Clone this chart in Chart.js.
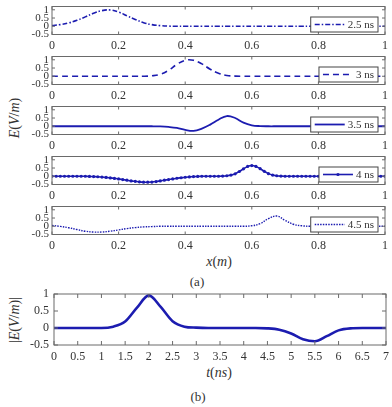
<!DOCTYPE html>
<html>
<head>
<meta charset="utf-8">
<script src="https://cdn.jsdelivr.net/npm/chart.js@4.4.1/dist/chart.umd.min.js"></script>
<style>
body { margin: 0; background: #fff; width: 392px; height: 407px; position: relative; overflow: hidden;
       font-family: 'Liberation Serif', serif; color: #333; }
canvas { position: absolute; left: 0; }
.lbl { position: absolute; white-space: nowrap; transform: translate(-50%, -50%); font-size: 14px; }
.rot { transform: translate(-50%, -50%) rotate(-90deg); }
</style>
</head>
<body>
<div class="lbl rot" style="left:15px; top:118px;"><i>E</i>(<i>V</i>/<i>m</i>)</div>
<div class="lbl" style="left:219px; top:262px;"><i>x</i>(<i>m</i>)</div>
<div class="lbl" style="left:197px; top:282px; font-size:13px;">(a)</div>
<div class="lbl rot" style="left:15px; top:320px;">|<i>E</i>(<i>V</i>/<i>m</i>)|</div>
<div class="lbl" style="left:219px; top:373px;"><i>t</i>(<i>ns</i>)</div>
<div class="lbl" style="left:198px; top:397px; font-size:13px;">(b)</div>
<script>
// 위치 격자 (m)
var xA = [0,0.025,0.05,0.075,0.1,0.125,0.15,0.175,0.2,0.225,0.25,0.275,0.3,0.325,0.35,0.375,0.4,0.425,0.45,0.475,
          0.5,0.525,0.55,0.575,0.6,0.625,0.65,0.675,0.7,0.725,0.75,0.775,0.8,0.825,0.85,0.875,0.9,0.925,0.95,0.975,1];
var xB = [0,0.0125,0.025,0.0375,0.05,0.0625,0.075,0.0875,0.1,0.1125,0.125,0.1375,0.15,0.1625,0.175,0.1875,0.2,0.2125,
          0.225,0.2375,0.25,0.2625,0.275,0.2875,0.3,0.3125,0.325,0.3375,0.35,0.3625,0.375,0.3875,0.4,0.4125,0.425,0.4375,
          0.45,0.4625,0.475,0.4875,0.5,0.5125,0.525,0.5375,0.55,0.5625,0.575,0.5875,0.6,0.6125,0.625,0.6375,0.65,0.6625,
          0.675,0.6875,0.7,0.7125,0.725,0.7375,0.75,0.7625,0.775,0.7875,0.8,0.8125,0.825,0.8375,0.85,0.8625,0.875,0.8875,
          0.9,0.9125,0.925,0.9375,0.95,0.9625,0.975,0.9875,1];

// 각 시간의 전기장 E(V/m)
var e25 = [0.05,0.1,0.2,0.36,0.57,0.79,0.95,0.99,0.86,0.64,0.41,0.22,0.1,0.04,0.01,0,0,0,0,0,
           0,0,0,0,0,0,0,0,0,0,0,0,0,0,0,0,0,0,0,0,0];
var e3 = [0,0,0,0,0,0,0,0,0,0,0,0,0.03,0.12,0.36,0.72,0.97,0.97,0.75,0.43,
          0.18,0.05,0.01,0,0,0,0,0,0,0,0,0,0,0,0,0,0,0,0,0,0];
var e35 = [0,0,0,0,0,0,0,0,0,0,0,0,0,-0.01,-0.04,-0.1,-0.22,-0.28,-0.14,0.1,
           0.4,0.62,0.5,0.22,0.06,0.01,0,0,0,0,0,0,0,0,0,0,0,0,0,0,0];
var e4 = [0,0,0,0,0,0,0,0,0,-0.01,-0.02,-0.03,-0.05,-0.07,-0.1,-0.13,-0.16,-0.2,-0.24,-0.28,
          -0.31,-0.34,-0.36,-0.36,-0.35,-0.32,-0.28,-0.24,-0.2,-0.16,-0.12,-0.09,-0.06,-0.04,-0.02,-0.01,0,0,0,0,
          0,0.01,0.03,0.07,0.15,0.29,0.45,0.6,0.65,0.6,0.46,0.3,0.16,0.07,0.03,0.01,0,0,0,0,
          0,0,0,0,0,0,0,0,0,0,0,0,0,0,0,0,0,0,0,0,0];
var e45 = [0.05,-0.01,-0.09,-0.2,-0.3,-0.35,-0.35,-0.3,-0.22,-0.14,-0.08,-0.04,-0.02,0,0,0,0,0,0,0,
           0,0,0,0,0.03,0.16,0.46,0.62,0.36,0.12,0.03,0,0,0,0,0,0,0,0,0,0];

// (b) 시간 (ns) 과 |E|
var tB = [0,0.25,0.5,0.75,1,1.25,1.5,1.75,2,2.25,2.5,2.75,3,3.25,3.5,3.75,4,4.25,4.5,4.75,5,5.25,5.5,5.75,6,6.25,6.5,6.75,7];
var eT = [0,0,0,0,0,0.04,0.19,0.6,0.96,0.62,0.2,0.04,0.01,0,0,0,0,0,-0.01,-0.05,-0.16,-0.33,-0.39,-0.24,-0.07,-0.01,0,0,0];

var labelsA = ['2.5 ns', '3 ns', '3.5 ns', '4 ns', '4.5 ns'];
var xTicksA = [0, 0.2, 0.4, 0.6, 0.8, 1];
var yTicksA = [-0.5, 0, 0.5, 1];
var xTicksB = [0,0.5,1,1.5,2,2.5,3,3.5,4,4.5,5,5.5,6,6.5,7];
var yTicksB = [-0.5, 0, 0.5, 1];

var blue = '#1c1cb0';
var axisGray = '#6a6a6a';
Chart.defaults.font.family = "'Liberation Serif', serif";
Chart.defaults.color = '#333';

// 박스, 안쪽 눈금, 범례 그리기
var frame = {
  id: 'frame',
  afterDatasetsDraw: function (chart, args, o) {
    var ctx = chart.ctx, a = chart.chartArea, sx = chart.scales.x, sy = chart.scales.y;
    ctx.save();
    ctx.strokeStyle = axisGray;
    ctx.lineWidth = 1;
    ctx.setLineDash([]);
    ctx.beginPath();
    sx.ticks.forEach(function (t) {
      var px = sx.getPixelForValue(t.value);
      ctx.moveTo(px, a.bottom); ctx.lineTo(px, a.bottom - o.tick);
      ctx.moveTo(px, a.top); ctx.lineTo(px, a.top + o.tick);
    });
    sy.ticks.forEach(function (t) {
      var py = sy.getPixelForValue(t.value);
      ctx.moveTo(a.left, py); ctx.lineTo(a.left + o.tick, py);
      ctx.moveTo(a.right, py); ctx.lineTo(a.right - o.tick, py);
    });
    ctx.stroke();
    ctx.strokeRect(a.left, a.top, a.right - a.left, a.bottom - a.top);

    if (o.legend) {
      var ds = chart.data.datasets[0];
      ctx.font = '11px "Liberation Serif", serif';
      var tw = ctx.measureText(ds.label).width;
      var w = 4 + 30 + 3 + tw + 4, h = 15;
      var x0 = a.right - 7 - w, y0 = a.bottom - 2.5 - h;
      ctx.fillStyle = '#fff';
      ctx.fillRect(x0, y0, w, h);
      ctx.strokeStyle = '#444';
      ctx.strokeRect(x0, y0, w, h);
      var my = y0 + h / 2;
      ctx.strokeStyle = ds.borderColor;
      ctx.lineWidth = ds.borderWidth;
      ctx.setLineDash(ds.borderDash || []);
      ctx.beginPath();
      ctx.moveTo(x0 + 4, my); ctx.lineTo(x0 + 34, my);
      ctx.stroke();
      ctx.setLineDash([]);
      if (ds.pointRadius > 0) {
        ctx.fillStyle = ds.borderColor;
        ctx.beginPath();
        ctx.arc(x0 + 19, my, ds.pointRadius, 0, Math.PI * 2);
        ctx.fill();
      }
      ctx.fillStyle = '#333';
      ctx.textBaseline = 'middle';
      ctx.textAlign = 'left';
      ctx.fillText(ds.label, x0 + 37, my + 0.5);
    }
    ctx.restore();
  }
};

function addCanvas(top, h) {
  var cv = document.createElement('canvas');
  cv.width = 392; cv.height = h;
  cv.style.top = top + 'px';
  document.body.appendChild(cv);
  return cv;
}

function pts(xs, ys) {
  return xs.map(function (x, k) { return { x: x, y: ys[k] }; });
}

// 축 크기를 고정해서 그림 영역 위치를 맞춘다
function fixX(h) {
  return function (s) { s.height = h; s.paddingLeft = 0; s.paddingRight = 0; };
}
function fixY(w) {
  return function (s) { s.width = w; s.paddingTop = 0; s.paddingBottom = 0; };
}

function panelA(i, ys, xs, style) {
  var ds = Object.assign({
    label: labelsA[i],
    data: pts(xs, ys),
    borderColor: blue,
    backgroundColor: blue,
    borderWidth: 1.6,
    pointRadius: 0,
    tension: 0.4,
    fill: false
  }, style);
  new Chart(addCanvas(50 * i, 50), {
    type: 'line',
    data: { datasets: [ds] },
    options: {
      responsive: false,
      animation: false,
      events: [],
      layout: { padding: { top: 6.5, right: 7, bottom: 0, left: 0 } },
      plugins: { legend: { display: false }, tooltip: { enabled: false }, frame: { tick: 3, legend: true } },
      scales: {
        x: {
          type: 'linear', min: 0, max: 1,
          grid: { display: false, drawTicks: false }, border: { display: false },
          afterBuildTicks: function (s) { s.ticks = xTicksA.map(function (v) { return { value: v }; }); },
          afterFit: fixX(15.5),
          ticks: { padding: 4, font: { size: 12 }, maxRotation: 0, autoSkip: false,
                   callback: function (v) { return String(v); } }
        },
        y: {
          min: -0.5, max: 1.2,
          grid: { display: false, drawTicks: false }, border: { display: false },
          afterBuildTicks: function (s) { s.ticks = yTicksA.map(function (v) { return { value: v }; }); },
          afterFit: fixY(52),
          ticks: { padding: 3, font: { size: 11 }, autoSkip: false,
                   callback: function (v) { return String(v); } }
        }
      }
    },
    plugins: [frame]
  });
}

panelA(0, e25, xA, { borderDash: [5, 2, 1.5, 2] });
panelA(1, e3, xA, { borderDash: [6, 4] });
panelA(2, e35, xA, { borderWidth: 1.8 });
panelA(3, e4, xB, { borderWidth: 1.6, pointRadius: 1.6, pointBorderWidth: 0, tension: 0.3 });
panelA(4, e45, xA, { borderDash: [1.5, 1.2], borderWidth: 1.4 });

// (b) |E| vs t
new Chart(addCanvas(280, 87), {
  type: 'line',
  data: {
    datasets: [{
      label: '|E|',
      data: pts(tB, eT),
      borderColor: blue,
      borderWidth: 2.6,
      pointRadius: 0,
      cubicInterpolationMode: 'monotone',
      fill: false
    }]
  },
  options: {
    responsive: false,
    animation: false,
    events: [],
    layout: { padding: { top: 14, right: 6, bottom: 0, left: 0 } },
    plugins: { legend: { display: false }, tooltip: { enabled: false }, frame: { tick: 4, legend: false } },
    scales: {
      x: {
        type: 'linear', min: 0, max: 7,
        grid: { display: false, drawTicks: false }, border: { display: false },
        afterBuildTicks: function (s) { s.ticks = xTicksB.map(function (v) { return { value: v }; }); },
        afterFit: fixX(22),
        ticks: { padding: 5, font: { size: 12 }, maxRotation: 0, autoSkip: false,
                 callback: function (v) { return String(v); } }
      },
      y: {
        min: -0.5, max: 1,
        grid: { display: false, drawTicks: false }, border: { display: false },
        afterBuildTicks: function (s) { s.ticks = yTicksB.map(function (v) { return { value: v }; }); },
        afterFit: fixY(54),
        ticks: { padding: 5, font: { size: 12 }, autoSkip: false,
                 callback: function (v) { return String(v); } }
      }
    }
  },
  plugins: [frame]
});
</script>
</body>
</html>
